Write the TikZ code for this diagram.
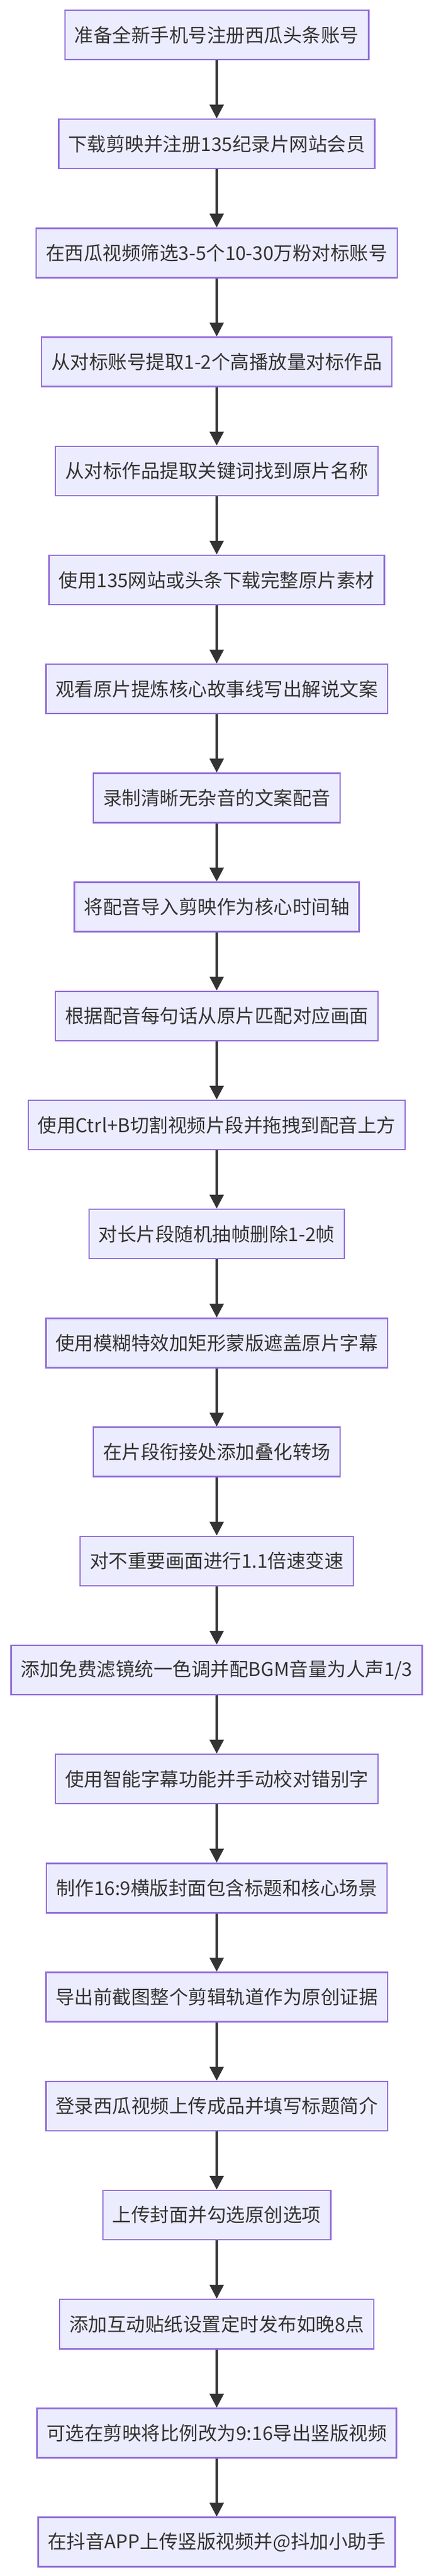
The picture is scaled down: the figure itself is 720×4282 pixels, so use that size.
\documentclass[tikz,border=0pt]{standalone}
\usepackage{fontspec}
\setmainfont{Noto Sans CJK SC}
\usetikzlibrary{arrows.meta}
\definecolor{bx}{HTML}{ECECFF}
\definecolor{bd}{HTML}{9370DB}
\definecolor{ln}{HTML}{333333}
\begin{document}
\begin{tikzpicture}[x=1pt,y=1pt,
  box/.style={draw=bd,fill=bx,line width=2.5pt,minimum height=82pt,inner xsep=16pt,inner ysep=0pt,font=\fontsize{31.5}{33}\selectfont,text=ln},
  arr/.style={draw=ln,line width=4pt,-{Triangle[length=23pt,width=23pt]}}]
\useasboundingbox (0,0) rectangle (720,-4282);
\fill[white] (0,0) rectangle (720,-4282);
\foreach \t [count=\i from 0] in {准备全新手机号注册西瓜头条账号,下载剪映并注册135纪录片网站会员,在西瓜视频筛选3-5个10-30万粉对标账号,从对标账号提取1-2个高播放量对标作品,从对标作品提取关键词找到原片名称,使用135网站或头条下载完整原片素材,观看原片提炼核心故事线写出解说文案,录制清晰无杂音的文案配音,将配音导入剪映作为核心时间轴,根据配音每句话从原片匹配对应画面,使用Ctrl+B切割视频片段并拖拽到配音上方,对长片段随机抽帧删除1-2帧,使用模糊特效加矩形蒙版遮盖原片字幕,在片段衔接处添加叠化转场,对不重要画面进行1.1倍速变速,添加免费滤镜统一色调并配BGM音量为人声1/3,使用智能字幕功能并手动校对错别字,制作16:9横版封面包含标题和核心场景,导出前截图整个剪辑轨道作为原创证据,登录西瓜视频上传成品并填写标题简介,上传封面并勾选原创选项,添加互动贴纸设置定时发布如晚8点,可选在剪映将比例改为9:16导出竖版视频,在抖音APP上传竖版视频并@抖加小助手}
{\node[box] (n\i) at (360,{-58-181.2*\i}) {\t};}
\foreach \i [evaluate=\i as \j using int(\i+1)] in {0,...,22}
{\draw[arr] (n\i.south) -- (n\j.north);}
\end{tikzpicture}
\end{document}
